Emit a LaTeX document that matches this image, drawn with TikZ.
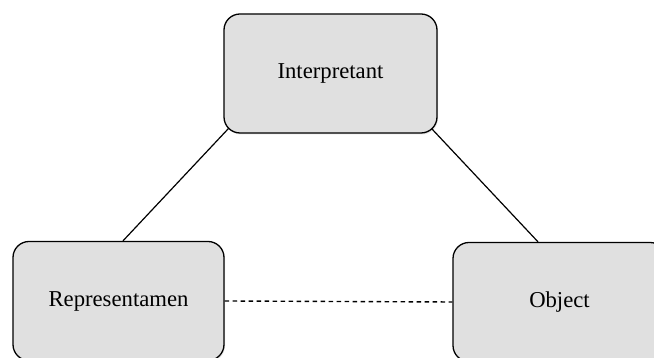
\documentclass[tikz,border=0pt]{standalone}
\usepackage{fontspec}
\setmainfont{Liberation Serif}
\usepackage{tikz}
\usetikzlibrary{calc, shadows}
\tikzset{signbox/.style={rectangle, rounded corners=16pt, draw=black, line width=1.3pt, fill=black!12, minimum width=213pt, minimum height=119pt, inner sep=0pt, font=\fontsize{22.7}{27}\selectfont, drop shadow={shadow xshift=1pt, shadow yshift=-1.5pt, opacity=0.2}}}

\begin{document}
\begin{tikzpicture}[x=1pt, y=1pt]
                 \useasboundingbox (0,0) rectangle (654,358);
                 \clip (0,0) rectangle (654,358);

                 \node[signbox] (interp) at (330.5,284.5) {Interpretant};
                 \node[signbox, minimum width=211pt] (rep) at (118.5,57) {Representamen};
                 \node[signbox] (obj) at (559.5,56) {Object};

                 \draw[line width=1.2pt] ($(interp.south west)+(5,5)$)--($(rep.north)+(4.5,0)$);
                 \draw[line width=1.2pt] ($(interp.south east)+(-6,5)$)--($(obj.north)+(-21.5,0)$);
                 \draw[line width=1.4pt, dash pattern=on 4.5pt off 3.5pt](rep.east)--(obj.west);
             \end{tikzpicture}
\end{document}
